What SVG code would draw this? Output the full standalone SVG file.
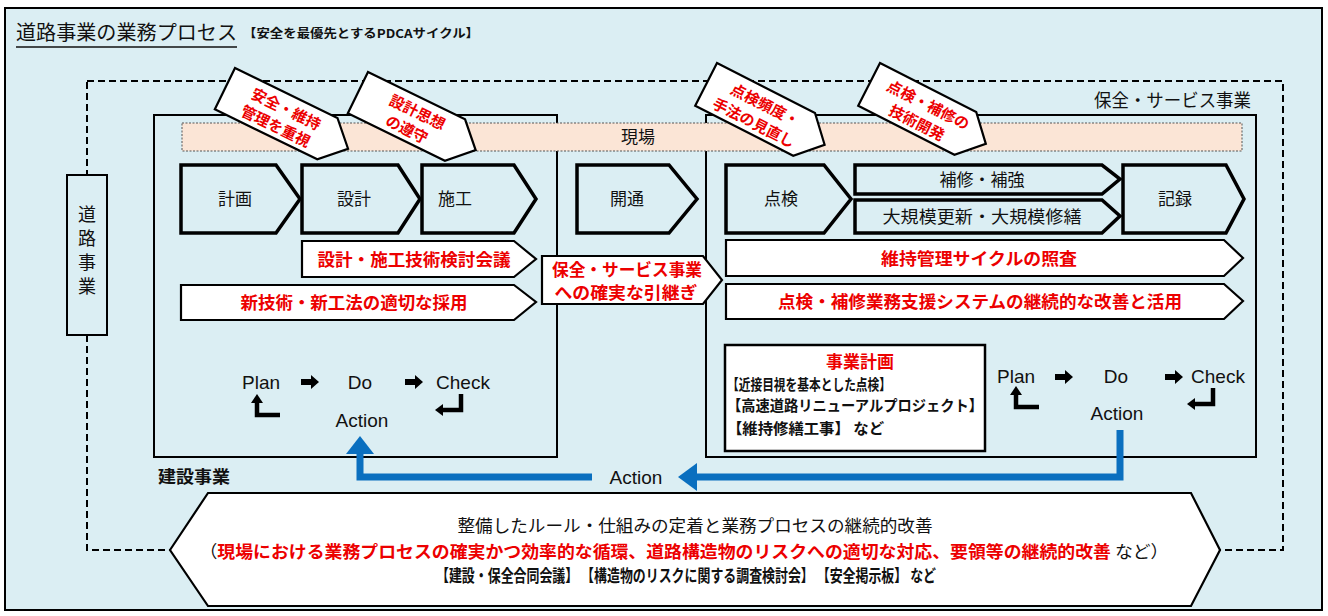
<svg xmlns="http://www.w3.org/2000/svg" xmlns:xlink="http://www.w3.org/1999/xlink" width="1328" height="616" viewBox="0 0 1328 616">
<style>
.jp{font-family:"Noto Sans CJK JP","Noto Sans",sans-serif;}
.en{font-family:"Liberation Sans",Arial,sans-serif;}
.red{fill:#ec0000;font-weight:bold;}
.chev{fill:#dbeef3;stroke:#000;stroke-width:3.5;stroke-linejoin:miter;}
.wbox{fill:#fff;stroke:#000;stroke-width:2.2;stroke-linejoin:miter;}
.frame{fill:none;stroke:#000;stroke-width:2;}
.blue{fill:none;stroke:#0a6fbf;stroke-width:7;}
.bluehead{fill:#0a6fbf;}
.ct{font-size:17px;text-anchor:middle;fill:#111;}
.rt{font-size:17px;text-anchor:middle;}
.pd{font-size:19px;text-anchor:middle;fill:#111;}
.cl{font-size:15px;text-anchor:middle;}
</style>
<defs>
<path id="ra" d="M0,-3 H10 V-7 L18,0 L10,7 V3 H0 Z" fill="#000"/>
<g id="retUp"><path d="M23,0 H0 V-13" fill="none" stroke="#000" stroke-width="4.5"/><polygon points="-6,-12 6,-12 0,-21" fill="#000"/></g>
<g id="retLeft"><path d="M0,-16 V0 H-19" fill="none" stroke="#000" stroke-width="4.5"/><polygon points="-18,-6 -18,6 -26,0" fill="#000"/></g>
</defs>
<rect x="0" y="0" width="1328" height="616" fill="#fff"/>
<g id="frame">
<rect x="5" y="8" width="1317" height="602" fill="#dbeef3" stroke="#000" stroke-width="2"/>
<text class="jp" x="16" y="40" font-size="20" fill="#111" textLength="221" lengthAdjust="spacingAndGlyphs">道路事業の業務プロセス</text>
<line x1="16" y1="47" x2="237" y2="47" stroke="#111" stroke-width="1.5"/>
<text class="jp" x="243" y="38" font-size="12" font-weight="bold" fill="#111" textLength="236" lengthAdjust="spacingAndGlyphs">【安全を最優先とするPDCAサイクル】</text>
<rect x="87" y="81" width="1196" height="469" fill="none" stroke="#000" stroke-width="2" stroke-dasharray="7,4"/>
</g>
<g id="road-business">
<rect x="67" y="175" width="40" height="160" fill="#dbeef3" stroke="#000" stroke-width="2"/>
<text class="jp" x="87" y="221" font-size="18" text-anchor="middle" fill="#111">道</text>
<text class="jp" x="87" y="245" font-size="18" text-anchor="middle" fill="#111">路</text>
<text class="jp" x="87" y="269" font-size="18" text-anchor="middle" fill="#111">事</text>
<text class="jp" x="87" y="293" font-size="18" text-anchor="middle" fill="#111">業</text>
</g>
<g id="construction">
<rect x="154" y="115" width="403" height="342" class="frame"/>
<text class="jp" x="158" y="483" font-size="17" font-weight="bold" fill="#111" textLength="72" lengthAdjust="spacingAndGlyphs">建設事業</text>
</g>
<g id="maintenance">
<rect x="706" y="115" width="550" height="342" class="frame"/>
<text class="jp" x="1094" y="107" font-size="18" fill="#111" textLength="157" lengthAdjust="spacingAndGlyphs">保全・サービス事業</text>
</g>
<g id="genba">
<rect x="182" y="123" width="1060" height="28" fill="#fbe5d6" stroke="#555" stroke-width="1" stroke-dasharray="2,1.5"/>
<text class="jp ct" x="638" y="143">現場</text>
</g>
<g id="keikaku"><polygon class="chev" points="181,165 276,165 300,199 276,233 181,233"/><text class="jp ct" x="235" y="205">計画</text></g>
<g id="sekkei"><polygon class="chev" points="302,165 398,165 420,199 398,233 302,233"/><text class="jp ct" x="354" y="205">設計</text></g>
<g id="sekou"><polygon class="chev" points="422,165 514,165 536,199 514,233 422,233"/><text class="jp ct" x="455" y="205">施工</text></g>
<g id="kaitsu"><polygon class="chev" points="577,165 669,165 697,199 669,233 577,233"/><text class="jp ct" x="627" y="205">開通</text></g>
<g id="tenken"><polygon class="chev" points="726,165 824,165 851,199 824,233 726,233"/><text class="jp ct" x="781" y="205">点検</text></g>
<g id="hoshu"><polygon class="chev" points="855,165 1102,165 1120,179 1102,194 855,194"/><text class="jp ct" x="982" y="186" font-size="16">補修・補強</text></g>
<g id="daikibo"><polygon class="chev" points="855,200 1102,200 1120,216 1102,233 855,233"/><text class="jp ct" x="982" y="223" font-size="16" textLength="199" lengthAdjust="spacingAndGlyphs">大規模更新・大規模修繕</text></g>
<g id="kiroku"><polygon class="chev" points="1123,165 1226,165 1244,199 1226,233 1123,233"/><text class="jp ct" x="1175" y="205">記録</text></g>
<g id="sekkei-kaigi"><polygon class="wbox" points="302,241 514,241 536,259 514,277 302,277"/><text class="jp rt red" x="414" y="266" textLength="193" lengthAdjust="spacingAndGlyphs">設計・施工技術検討会議</text></g>
<g id="shingijutsu"><polygon class="wbox" points="181,285 514,285 536,302 514,320 181,320"/><text class="jp rt red" x="354" y="309" textLength="227" lengthAdjust="spacingAndGlyphs">新技術・新工法の適切な採用</text></g>
<g id="hikitsugi"><polygon class="wbox" points="542,256 703,256 722,280 703,304 542,304"/><text class="jp rt red" x="627" y="276" font-size="16" textLength="150" lengthAdjust="spacingAndGlyphs">保全・サービス事業</text><text class="jp rt red" x="626" y="299" font-size="16" textLength="143" lengthAdjust="spacingAndGlyphs">への確実な引継ぎ</text></g>
<g id="shosa"><polygon class="wbox" points="726,240 1224,240 1243,258 1224,276 726,276"/><text class="jp rt red" x="979" y="265" textLength="196" lengthAdjust="spacingAndGlyphs">維持管理サイクルの照査</text></g>
<g id="shien"><polygon class="wbox" points="726,284 1224,284 1243,301 1224,319 726,319"/><text class="jp rt red" x="980" y="308" textLength="404" lengthAdjust="spacingAndGlyphs">点検・補修業務支援システムの継続的な改善と活用</text></g>
<g id="callout1" transform="translate(235,68) rotate(26)"><polygon class="wbox" points="0,0 114,0 137,23 114,46 0,46"/><text class="jp red cl"><tspan x="64" y="20">安全・維持</tspan><tspan x="62" y="40">管理を重視</tspan></text></g>
<g id="callout2" transform="translate(368,72) rotate(26)"><polygon class="wbox" points="0,0 108,0 131,23 108,46 0,46"/><text class="jp red cl"><tspan x="62" y="20">設計思想</tspan><tspan x="60" y="40">の遵守</tspan></text></g>
<g id="callout3" transform="translate(717,63) rotate(27)"><polygon class="wbox" points="0,0 110,0 133,24 110,48 0,48"/><text class="jp red cl"><tspan x="62" y="21">点検頻度・</tspan><tspan x="60" y="42">手法の見直し</tspan></text></g>
<g id="callout4" transform="translate(880,63) rotate(27)"><polygon class="wbox" points="0,0 108,0 131,24 108,48 0,48"/><text class="jp red cl"><tspan x="62" y="21">点検・補修の</tspan><tspan x="60" y="42">技術開発</tspan></text></g>
<g id="pdca-left">
<text class="en pd" x="261" y="389">Plan</text>
<use xlink:href="#ra" x="301" y="382"/>
<text class="en pd" x="360" y="389">Do</text>
<use xlink:href="#ra" x="405" y="382"/>
<text class="en pd" x="463" y="389">Check</text>
<use xlink:href="#retUp" x="257" y="415"/>
<use xlink:href="#retLeft" x="461" y="410"/>
<text class="en pd" x="362" y="427">Action</text>
</g>
<g id="jigyo-keikaku">
<rect x="725" y="345" width="260" height="106" fill="#fff" stroke="#000" stroke-width="2.5"/>
<text class="jp red" x="860" y="368" font-size="17" text-anchor="middle">事業計画</text>
<text class="jp" x="727" y="390" font-size="15" fill="#111" font-weight="bold" textLength="164" lengthAdjust="spacingAndGlyphs">【近接目視を基本とした点検】</text>
<text class="jp" x="727" y="411" font-size="15" fill="#111" font-weight="bold" textLength="256" lengthAdjust="spacingAndGlyphs">【高速道路リニューアルプロジェクト】</text>
<text class="jp" x="727" y="434" font-size="15" fill="#111" font-weight="bold" textLength="157" lengthAdjust="spacingAndGlyphs">【維持修繕工事】 など</text>
</g>
<g id="pdca-right">
<text class="en pd" x="1016" y="383">Plan</text>
<use xlink:href="#ra" x="1055" y="377"/>
<text class="en pd" x="1116" y="383">Do</text>
<use xlink:href="#ra" x="1165" y="377"/>
<text class="en pd" x="1218" y="383">Check</text>
<use xlink:href="#retUp" x="1016" y="407"/>
<use xlink:href="#retLeft" x="1213" y="404"/>
<text class="en pd" x="1117" y="420">Action</text>
</g>
<g id="connectors">
<path class="blue" d="M1120,430 V477 H694"/>
<polygon class="bluehead" points="678,477 697,463 697,491"/>
<path class="blue" d="M592,477 H360 V452"/>
<polygon class="bluehead" points="360,436 346,454 374,454"/>
<text class="en pd" x="636" y="484">Action</text>
</g>
<g id="improvement">
<polygon fill="#fff" stroke="#000" stroke-width="2.2" points="170,550 208,493 1191,493 1220,550 1191,606 208,606"/>
<text class="jp" x="695" y="532" font-size="17" text-anchor="middle" fill="#111" textLength="475" lengthAdjust="spacingAndGlyphs">整備したルール・仕組みの定着と業務プロセスの継続的改善</text>
<text class="jp" x="684" y="558" font-size="17" text-anchor="middle" fill="#111" textLength="969" lengthAdjust="spacingAndGlyphs">（<tspan fill="#ec0000" font-weight="bold">現場における業務プロセスの確実かつ効率的な循環、道路構造物のリスクへの適切な対応、要領等の継続的改善</tspan> など）</text>
<text class="jp" x="686" y="582" font-size="17" text-anchor="middle" fill="#111" font-weight="bold" textLength="500" lengthAdjust="spacingAndGlyphs">【建設・保全合同会議】 【構造物のリスクに関する調査検討会】 【安全掲示板】 など</text>
</g>
</svg>
